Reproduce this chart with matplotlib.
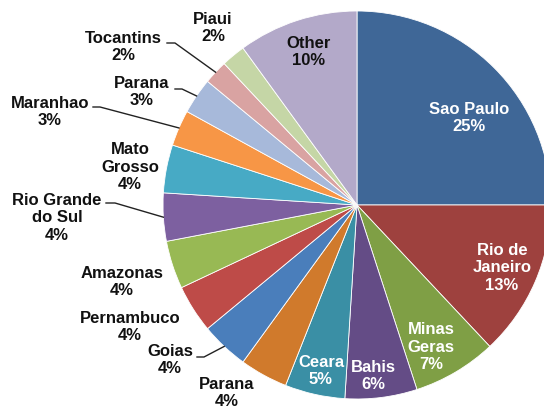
import numpy as np
import matplotlib
matplotlib.use("Agg")
from matplotlib import pyplot as plt

# fatias no sentido horário, a partir do topo
estados = ['Sao Paulo', 'Rio de\nJaneiro', 'Minas\nGeras', 'Bahis', 'Ceara',
           'Parana', 'Goias', 'Pernambuco', 'Amazonas', 'Rio Grande\ndo Sul',
           'Mato\nGrosso', 'Maranhao', 'Parana', 'Tocantins', 'Piaui', 'Other']
percentagens = [25, 13, 7, 6, 5, 4, 4, 4, 4, 4, 4, 3, 3, 2, 2, 10]
cores = ['#3F6797', '#9E413E', '#7F9F45', '#644C86', '#3A8FA5',
         '#D07A2C', '#4A7EBB', '#BE4B48', '#98B954', '#7D60A0',
         '#47AAC5', '#F79646', '#A7B9DA', '#D9A3A2', '#C5D6A6', '#B3A9C9']

# centro e raio do gráfico em pixels da imagem
CX, CY, R = 357, 205, 194
W, H = 544, 408


def px(x, y):
    # pixel -> coordenadas do eixo (raio = 1)
    return (x - CX) / R, (CY - y) / R


# rótulos dentro das fatias: (posição em pixels, cor)
dentro = {0: ((469, 118), 'white'), 1: ((502, 268), 'white'), 2: ((431, 347), 'white'),
          3: ((373, 376), 'white'), 4: ((321, 371), 'white'), 15: ((309, 52), '#111111')}
# rótulos fora: posição do texto e início da linha de ligação (ou None)
fora = {5: ((227, 393), None),
        6: ((170, 360), [(197, 357), (204, 357)]),
        7: ((130, 327), None),
        8: ((122, 282), None),
        9: ((57, 218), [(106, 203), (115, 203)]),
        10: ((130, 167), None),
        11: ((50, 112), [(93, 107), (100, 107)]),
        12: ((142, 92), [(175, 89), (182, 89)]),
        13: ((123, 47), [(167, 43), (175, 43)]),
        14: ((213, 28), None)}

plt.rcParams['font.family'] = ['Liberation Sans', 'DejaVu Sans']

fig = plt.figure(figsize=(W / 100, H / 100), dpi=100)
ax = fig.add_axes([0, 0, 1, 1])
wedges, _ = ax.pie(percentagens, colors=cores, startangle=90, counterclock=False,
                   radius=1, center=(0, 0),
                   wedgeprops=dict(edgecolor='white', linewidth=0.6))
ax.set_xlim(-CX / R, (W - CX) / R)
ax.set_ylim(-(H - CY) / R, CY / R)
ax.set_aspect('auto')
ax.axis('off')

total = sum(percentagens)
for i, (nome, p) in enumerate(zip(estados, percentagens)):
    txt = f'{nome}\n{round(100 * p / total)}%'
    if i in dentro:
        pos, cor = dentro[i]
        ax.text(*px(*pos), txt, ha='center', va='center', color=cor,
                fontsize=12, fontweight='bold', linespacing=1.2)
    else:
        pos, linha = fora[i]
        ax.text(*px(*pos), txt, ha='center', va='center', color='#111111',
                fontsize=12, fontweight='bold', linespacing=1.2)
        if linha:
            # linha até a borda da fatia, no ângulo médio
            w = wedges[i]
            ang = np.deg2rad((w.theta1 + w.theta2) / 2)
            xs = [px(*p_)[0] for p_ in linha] + [np.cos(ang)]
            ys = [px(*p_)[1] for p_ in linha] + [np.sin(ang)]
            ax.plot(xs, ys, color='#222222', lw=1.0)

fig.savefig('out.png', dpi=100)
